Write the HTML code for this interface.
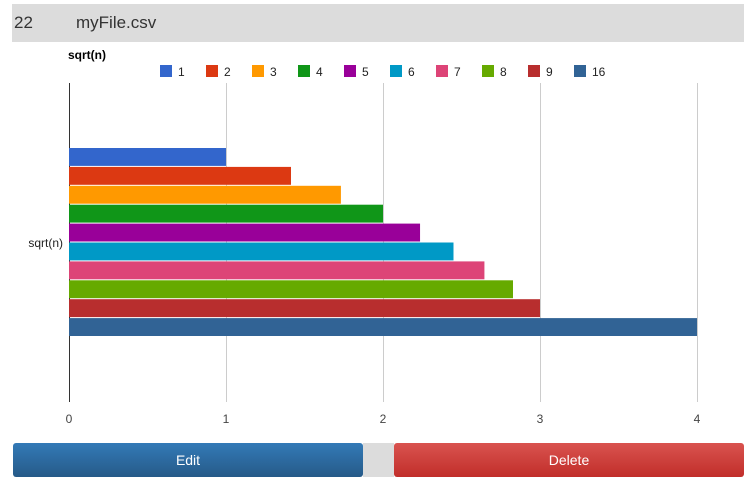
<!DOCTYPE html>
<html><head><meta charset="utf-8"><style>
body{margin:0;width:755px;height:490px;background:#fff;font-family:"Liberation Sans",Arial,sans-serif;overflow:hidden;position:relative}
#hdr{position:absolute;left:12px;top:4px;width:732px;height:38px;background:#dcdcdc;font-size:17px;color:#333}
.btn{position:absolute;top:443px;height:34px;border-radius:3px;color:#fff;font-size:14px;text-align:center;line-height:34px}
</style></head><body>
<div id="hdr">
<span style="position:absolute;left:2px;top:9px">22</span>
<span style="position:absolute;left:64px;top:9px">myFile.csv</span>
</div>
<svg id="chart" width="755" height="440" style="position:absolute;left:0;top:0"></svg>
<div style="position:absolute;left:363px;top:443px;width:31px;height:34px;background:#dcdcdc"></div>
<div class="btn" style="left:13px;width:350px;background:linear-gradient(#337ab7,#265a88)">Edit</div>
<div class="btn" style="left:394px;width:350px;background:linear-gradient(#d9534f,#c12e2a)">Delete</div>
<script>
const categories=["1","2","3","4","5","6","7","8","9","16"];
const values=[1,1.414,1.732,2,2.236,2.449,2.646,2.828,3,4];
const colors=["#3366cc","#dc3912","#ff9900","#109618","#990099","#0099c6","#dd4477","#66aa00","#b82e2e","#316395"];
const ticks=[0,1,2,3,4];
const NS="http://www.w3.org/2000/svg";
const svg=document.getElementById('chart');
const x0=69,xs=157,gTop=83,gBot=402,bTop=148,bH=18.9;
const xp=v=>x0+v*xs;
function mk(t,a,txt){const e=document.createElementNS(NS,t);for(const k in a)e.setAttribute(k,a[k]);if(txt!==undefined)e.textContent=txt;svg.appendChild(e);return e;}
ticks.forEach(t=>{
 const l=mk('line',{x1:xp(t)+0.5,x2:xp(t)+0.5,y1:gTop,y2:gBot,stroke:t===0?'#333':'#ccc'});
 
 
 const tx=mk('text',{x:xp(t),y:423,'text-anchor':'middle','font-size':12,fill:'#444'},String(t));
 
 
});
values.forEach((v,i)=>{
 const r=mk('rect',{x:x0,y:bTop+i*bH,width:xp(v)-x0,height:bH-1,fill:colors[i]});
 
 
 const lx=160+i*46;
 const b=mk('rect',{x:lx,y:65,width:12,height:12,fill:colors[i]});
 
 
 const lt=mk('text',{x:lx+18,y:76,'font-size':12,fill:'#222'},categories[i]);
 
 
});
const tt=mk('text',{x:68,y:59,'font-size':12,'font-weight':'bold',fill:'#000'},'sqrt(n)');


const yl=mk('text',{x:63,y:247,'text-anchor':'end','font-size':12,fill:'#222'},'sqrt(n)');


</script>
</body></html>
